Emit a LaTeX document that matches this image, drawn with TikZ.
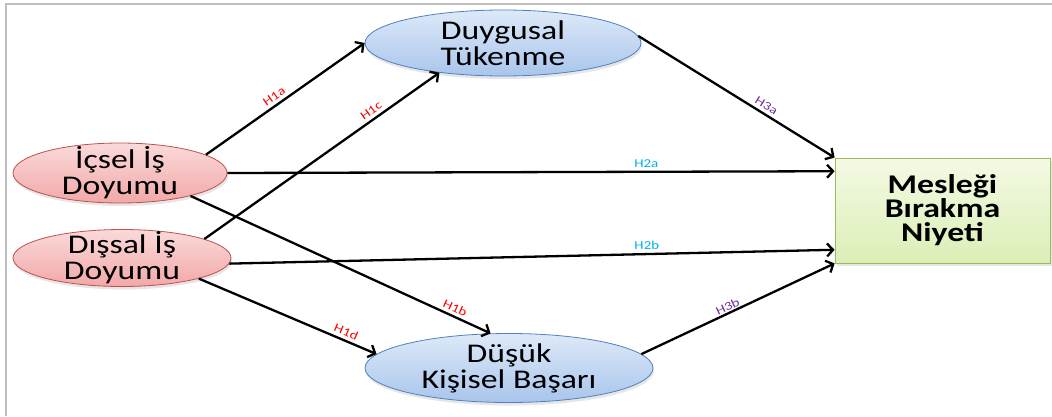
\documentclass[tikz,border=0pt]{standalone}
\usepackage{fontspec}
\setmainfont[FakeStretch=1.25]{Carlito}
\usetikzlibrary{arrows.meta,shapes.geometric,shadows}

\definecolor{satline}{HTML}{C0504D}
\definecolor{sattop}{HTML}{FADADA}
\definecolor{satbot}{HTML}{F2A8A8}
\definecolor{burnline}{HTML}{4F81BD}
\definecolor{burntop}{HTML}{DDE9F8}
\definecolor{burnbot}{HTML}{A9C5EC}
\definecolor{quitline}{HTML}{9BBB59}
\definecolor{quittop}{HTML}{F3FAE4}
\definecolor{quitbot}{HTML}{DCEEB6}
\definecolor{hone}{HTML}{FF0000}
\definecolor{htwo}{HTML}{00B0F0}
\definecolor{hthree}{HTML}{7030A0}
\definecolor{framegray}{HTML}{BFBFBF}

\begin{document}
\begin{tikzpicture}[
    x=1pt, y=1pt,
    sat/.style={ellipse, draw=satline, thick, top color=sattop, bottom color=satbot,
                inner xsep=0pt, inner ysep=-14pt, align=center,
                font=\fontsize{27}{26}\selectfont,
                drop shadow={shadow xshift=1pt, shadow yshift=-3pt, opacity=0.2}},
    burn/.style={sat, draw=burnline, top color=burntop, bottom color=burnbot},
    quit/.style={draw=quitline, thick, top color=quittop, bottom color=quitbot,
                 minimum width=215pt, minimum height=105pt, align=center,
                 font=\fontsize{27}{24}\selectfont\bfseries,
                 drop shadow={shadow xshift=2pt, shadow yshift=-3pt, opacity=0.2}},
    arr/.style={-{Straight Barb[length=6pt,width=13pt]}, line width=2.3pt},
    hyp/.style={above, sloped, font=\fontsize{12}{12}\selectfont}
  ]
    \useasboundingbox (0,0) rectangle (1052,-416);
    \draw[framegray, line width=2pt] (5.5,-416) -- (5.5,-3.5) -- (1052,-3.5);

    \node[sat, minimum width=214pt, minimum height=60pt]  (icsel)    at (120,-173)   {İçsel İş\\Doyumu};
    \node[sat, minimum width=218pt, minimum height=57pt]  (dissal)   at (122,-258)   {Dışsal İş\\Doyumu};
    \node[burn, minimum width=276pt, minimum height=66pt] (duygusal) at (503,-43)    {Duygusal\\Tükenme};
    \node[burn, minimum width=288pt, minimum height=69pt] (dusuk)    at (509,-368)   {Düşük\\Kişisel Başarı};
    \node[quit] (niyet) at (942.5,-210.5) {Mesleği\\Bırakma\\Niyeti};

    \draw[arr] (icsel.12)     -- node[hyp, pos=0.46, text=hone]{H1a} (duygusal.west);
    \draw[arr] (dissal.13)    -- node[hyp, pos=0.73, text=hone]{H1c} (duygusal.205);
    \draw[arr] (icsel.-18)    -- node[hyp, pos=0.87, text=hone]{H1b} (dusuk.118);
    \draw[arr] (dissal.-15)   -- node[hyp, pos=0.81, text=hone]{H1d} (dusuk.174);
    \draw[arr] (icsel.east)   -- node[hyp, pos=0.69, text=htwo]{H2a} (niyet.160);
    \draw[arr] (dissal.-3)    -- node[hyp, pos=0.69, text=htwo]{H2b} (niyet.200);
    \draw[arr] (duygusal.3)   -- node[hyp, pos=0.63, text=hthree]{H3a} (niyet.north west);
    \draw[arr] (dusuk.6)      -- node[hyp, pos=0.46, text=hthree, inner sep=1pt]{H3b} (niyet.south west);
  \end{tikzpicture}
\end{document}
